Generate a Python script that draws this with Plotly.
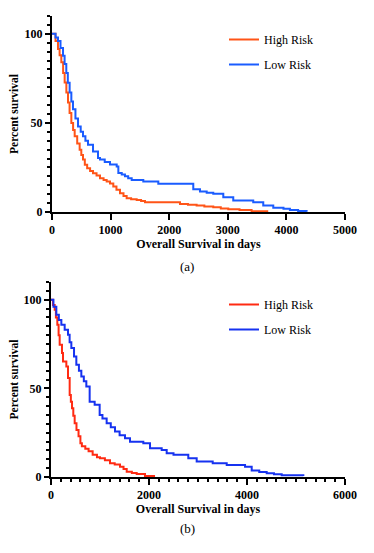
import plotly.graph_objects as go

# panel (a) - Kaplan-Meier steps
a_high_days = [0, 60, 102, 130, 159, 190, 216, 245, 273, 300, 330, 360, 387, 430, 472, 500, 529, 560,
               600, 650, 700, 760, 819, 880, 933, 990, 1046, 1100, 1160, 1220, 1274, 1350, 1445, 1520,
               1587, 2127, 2184, 2320, 2468, 2600, 2752, 2880, 3008, 3200, 3406, 3690]
a_high_surv = [100, 96, 91.5, 88, 84, 78, 72.7, 67, 61.4, 55.5, 50, 46, 42.5, 38.5, 35, 32, 29.4, 26.5,
               24.5, 23, 21.8, 20.5, 19, 18, 17.1, 16, 14.3, 12.5, 10.5, 9, 7.7, 7.2, 6.8, 6.2,
               5.5, 5.5, 4.5, 4.1, 3.6, 3.1, 2.6, 2.0, 1.5, 1.1, 0.4, 0.4]

a_low_days = [0, 60, 102, 145, 188, 215, 244, 270, 301, 330, 358, 400, 444, 490, 529, 570, 614, 700,
              785, 819, 900, 990, 1104, 1132, 1190, 1245, 1300, 1360, 1558, 1814, 2354, 2411, 2525,
              2640, 2752, 2923, 3093, 3434, 3605, 3776, 3950, 4060, 4200, 4345]
a_low_surv = [100, 98, 96, 92, 87.7, 83, 78, 72.5, 67, 62, 57.6, 52.5, 48, 45, 42.5, 40, 37.8, 34,
              30.3, 29.4, 28, 26.6, 25.6, 21.9, 21, 20, 19, 18, 17.1, 15.8, 15.8, 12.8, 11.5,
              10.8, 10.2, 8.3, 6.4, 5.5, 3.6, 2.4, 1.8, 1.1, 0.6, 0.2]

# panel (b)
b_high_days = [0, 40, 75, 100, 129, 155, 177, 224, 245, 313, 347, 381, 405, 429, 455, 483, 520, 562,
               600, 630, 700, 767, 850, 938, 1000, 1100, 1204, 1300, 1408, 1480, 1545, 1650, 1749,
               1918, 2123]
b_high_surv = [100, 97, 94.4, 90, 85.9, 80, 74.6, 69.9, 65.1, 62.3, 55.8, 46.3, 42.5, 38.8, 34.5, 30.3,
               26.5, 23, 19, 17.3, 16, 14.5, 12.5, 11.2, 10.6, 9.5, 7.7, 7, 5.8, 4.5, 3, 2.3, 1.7,
               0.6, 0.6]

b_low_days = [0, 50, 109, 160, 211, 279, 347, 380, 415, 470, 517, 570, 619, 670, 721, 789, 891, 993,
              1050, 1136, 1220, 1306, 1400, 1510, 1612, 1884, 2021, 2259, 2361, 2500, 2802, 2973,
              3300, 3586, 3960, 4096, 4250, 4402, 4550, 4708, 5150]
b_low_surv = [100, 96, 91.5, 88.5, 85.9, 83, 80.2, 76, 72.7, 68, 63.3, 60, 56.7, 54, 51, 42.5, 40.7,
              35, 33, 30.3, 28, 25.6, 23.5, 21.9, 19.9, 19, 16.2, 15.3, 13.4, 12.5, 10.6, 8.7,
              7.8, 6.8, 5.8, 3.6, 2.8, 2.1, 1.5, 1, 0.5]

# page body has an 8px margin, so the figure is a bit smaller than the window
OFF = 8
W, H = 374 - OFF, 553 - OFF
SERIF = "Liberation Serif"


def px_x(p):
    return (p - OFF) / W


def px_y(p):
    return 1 - (p - OFF) / H


fig = go.Figure()

traces = [
    (a_high_days, a_high_surv, "High Risk", "#ff5417", "x", "y", "legend", "a1"),
    (a_low_days, a_low_surv, "Low Risk", "#1a5cff", "x", "y", "legend", "a2"),
    (b_high_days, b_high_surv, "High Risk", "#ff2a12", "x2", "y2", "legend2", "b1"),
    (b_low_days, b_low_surv, "Low Risk", "#1632f0", "x2", "y2", "legend2", "b2"),
]
for days, surv, name, col, xa, ya, leg, grp in traces:
    fig.add_trace(go.Scatter(x=days, y=surv, name=name, mode="lines",
                             line=dict(color=col, width=2, shape="hv"),
                             xaxis=xa, yaxis=ya, legend=leg, legendgroup=grp))

tickfont = dict(family=SERIF, size=12, color="black", weight="bold")
titlefont = dict(family=SERIF, size=12, color="black", weight="bold")

common_x = dict(showline=True, linecolor="black", linewidth=2, showgrid=False, zeroline=False,
                automargin=False, tick0=0,
                ticks="outside", ticklen=6, tickwidth=1.5, tickcolor="black", tickfont=tickfont,
                title=dict(text="Overall Survival in days", font=titlefont, standoff=2))
common_y = dict(showline=True, linecolor="black", linewidth=2, showgrid=False, zeroline=False,
                automargin=False,
                ticks="outside", ticklen=5, tickwidth=1.5, tickcolor="black", tickfont=tickfont,
                range=[0, 110], tick0=0, dtick=50,
                minor=dict(dtick=5, tick0=0, ticks="outside", ticklen=3, tickwidth=1.5, tickcolor="black"),
                title=dict(text="Percent survival", font=dict(family=SERIF, size=11.5, color="black", weight="bold"),
                           standoff=6))

fig.update_layout(
    width=W, height=H,
    margin=dict(l=0, r=0, t=0, b=0),
    paper_bgcolor="white", plot_bgcolor="white",
    xaxis=dict(common_x, domain=[px_x(52), px_x(345)], range=[0, 5000], dtick=1000, anchor="y"),
    yaxis=dict(common_y, domain=[px_y(212), px_y(16)], anchor="x"),
    xaxis2=dict(common_x, domain=[px_x(51), px_x(345)], range=[0, 6000], dtick=2000, anchor="y2",
                minor=dict(dtick=200, tick0=0, ticks="outside", ticklen=3, tickwidth=1.5, tickcolor="black")),
    yaxis2=dict(common_y, domain=[px_y(477), px_y(282)], anchor="x2"),
    legend=dict(x=px_x(224), y=px_y(25), xanchor="left", yanchor="top", bgcolor="rgba(0,0,0,0)",
                font=dict(family=SERIF, size=12, color="black"), tracegroupgap=6),
    legend2=dict(x=px_x(224), y=px_y(290), xanchor="left", yanchor="top", bgcolor="rgba(0,0,0,0)",
                 font=dict(family=SERIF, size=12, color="black"), tracegroupgap=6),
    annotations=[
        dict(text="(a)", x=px_x(187), y=px_y(266), xref="paper", yref="paper", showarrow=False,
             font=dict(family=SERIF, size=13, color="black")),
        dict(text="(b)", x=px_x(187), y=px_y(538), xref="paper", yref="paper", showarrow=False,
             font=dict(family=SERIF, size=13, color="black")),
    ],
)

fig.write_html("out.html")
